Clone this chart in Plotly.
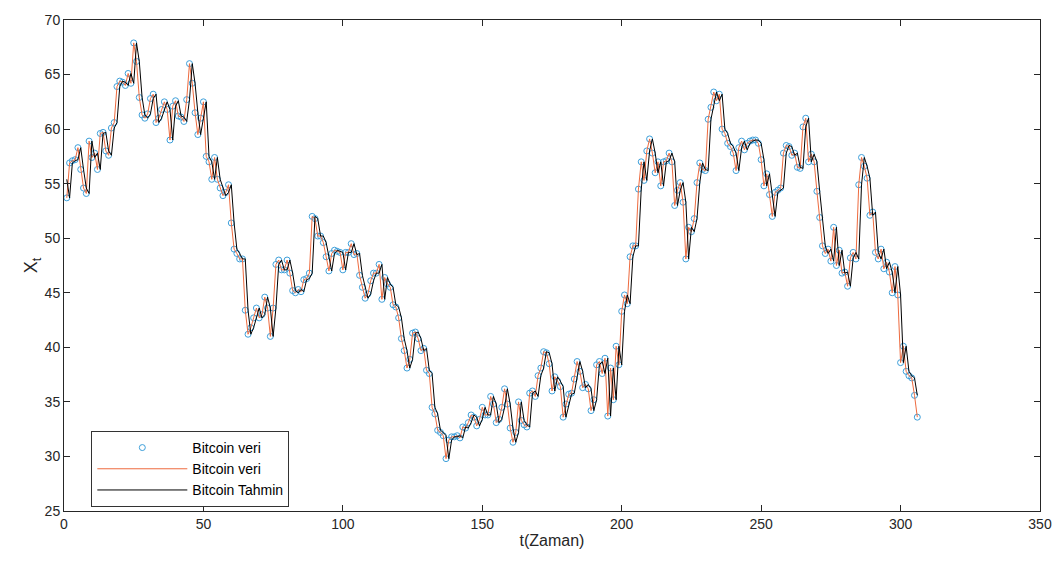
import plotly.graph_objects as go

t_index = list(range(1, 307))

bitcoin_data = [
    53.7, 56.9, 57.1, 57.2, 58.3, 56.3, 54.6, 54.1, 58.9, 57.4,
    57.8, 56.3, 59.6, 59.7, 58.0, 57.6, 60.1, 60.6, 63.9, 64.4,
    64.3, 64.0, 65.1, 64.2, 67.9, 66.2, 62.9, 61.3, 61.0, 61.4,
    62.8, 63.2, 60.6, 61.0, 61.8, 62.5, 61.8, 59.0, 62.1, 62.6,
    61.2, 61.1, 60.7, 62.7, 66.0, 64.2, 61.5, 59.5, 61.0, 62.5,
    57.5, 57.0, 55.4, 57.4, 55.4, 54.6, 53.9, 54.2, 54.9, 51.4,
    49.0, 48.6, 48.1, 48.1, 43.4, 41.2, 41.8, 42.7, 43.6, 42.7,
    43.0, 44.6, 43.6, 41.0, 43.6, 47.6, 48.0, 47.1, 47.1, 48.0,
    46.8, 45.2, 45.0, 45.3, 45.1, 46.2, 46.3, 46.8, 52.0, 51.8,
    50.2, 50.2, 49.6, 48.3, 47.0, 48.6, 48.9, 48.8, 48.7, 47.1,
    48.7, 48.7, 49.5, 48.5, 48.6, 46.6, 45.5, 44.5, 44.9, 46.1,
    46.8, 46.8, 47.6, 44.4, 46.4, 45.8, 45.5, 43.9, 43.7, 42.7,
    40.8, 39.7, 38.1, 38.9, 41.3, 41.4, 40.8, 39.7, 39.9, 37.9,
    37.6, 34.5, 33.9, 32.4, 32.2, 31.9, 29.8, 31.5, 31.8, 31.8,
    31.9, 31.7, 32.7, 32.6, 33.1, 33.8, 33.6, 32.8, 33.4, 34.5,
    33.8, 33.8, 35.5, 34.8, 33.1, 33.4, 34.5, 36.2, 34.8, 32.6,
    31.3, 32.2, 35.0, 33.3, 32.9, 32.7, 35.8, 36.0, 35.5, 37.4,
    38.1, 39.6, 39.5, 38.5, 36.0, 37.3, 36.9, 36.4, 33.6, 34.8,
    35.7, 35.8, 37.1, 38.7, 37.8, 36.3, 36.6, 36.2, 34.2, 35.2,
    38.4, 38.7, 37.6, 39.0, 33.7, 38.1, 35.2, 40.1, 38.4, 43.3,
    44.8, 44.0, 48.3, 49.3, 49.3, 54.5, 57.0, 55.3, 58.0, 59.1,
    57.8, 56.0, 57.0, 54.8, 57.0, 57.1, 57.8, 57.0, 53.0, 54.4,
    55.1, 53.3, 48.1, 51.0, 50.6, 51.8, 55.1, 56.9, 56.3, 56.2,
    60.9, 62.0, 63.4, 62.6, 63.2, 60.0, 59.6, 58.7, 58.4, 57.8,
    56.2, 58.3, 58.9, 58.1, 58.7, 58.9, 59.0, 59.0, 58.7, 57.2,
    54.8, 55.9, 54.0, 52.0, 54.2, 54.4, 54.6, 57.8, 58.5, 58.4,
    57.6, 57.8, 56.5, 56.4, 60.2, 61.0, 57.0, 57.7, 57.0, 54.3,
    51.9, 49.3, 48.6, 49.0, 47.9, 51.0, 47.5, 48.9, 46.8, 46.9,
    45.6, 48.2, 48.7, 48.1, 54.9, 57.4, 56.6, 55.5, 52.1, 52.4,
    48.7, 48.1, 49.0, 47.2, 47.8, 46.9, 45.0, 47.4, 44.8, 38.6,
    40.1, 37.8, 37.4, 37.2, 35.6, 33.6,
]

bitcoin_tahmin = [
    55.4, 53.7, 56.9, 57.1, 57.2, 58.3, 56.3, 54.6, 54.1, 58.9,
    57.4, 57.8, 56.3, 59.6, 59.7, 58.0, 57.6, 60.1, 60.6, 63.9,
    64.4, 64.3, 64.0, 65.1, 64.2, 67.9, 66.2, 62.9, 61.3, 61.0,
    61.4, 62.8, 63.2, 60.6, 61.0, 61.8, 62.5, 61.8, 59.0, 62.1,
    62.6, 61.2, 61.1, 60.7, 62.7, 66.0, 64.2, 61.5, 59.5, 61.0,
    62.5, 57.5, 57.0, 55.4, 57.4, 55.4, 54.6, 53.9, 54.2, 54.9,
    51.4, 49.0, 48.6, 48.1, 48.1, 43.4, 41.2, 41.8, 42.7, 43.6,
    42.7, 43.0, 44.6, 43.6, 41.0, 43.6, 47.6, 48.0, 47.1, 47.1,
    48.0, 46.8, 45.2, 45.0, 45.3, 45.1, 46.2, 46.3, 46.8, 52.0,
    51.8, 50.2, 50.2, 49.6, 48.3, 47.0, 48.6, 48.9, 48.8, 48.7,
    47.1, 48.7, 48.7, 49.5, 48.5, 48.6, 46.6, 45.5, 44.5, 44.9,
    46.1, 46.8, 46.8, 47.6, 44.4, 46.4, 45.8, 45.5, 43.9, 43.7,
    42.7, 40.8, 39.7, 38.1, 38.9, 41.3, 41.4, 40.8, 39.7, 39.9,
    37.9, 37.6, 34.5, 33.9, 32.4, 32.2, 31.9, 29.8, 31.5, 31.8,
    31.8, 31.9, 31.7, 32.7, 32.6, 33.1, 33.8, 33.6, 32.8, 33.4,
    34.5, 33.8, 33.8, 35.5, 34.8, 33.1, 33.4, 34.5, 36.2, 34.8,
    32.6, 31.3, 32.2, 35.0, 33.3, 32.9, 32.7, 35.8, 36.0, 35.5,
    37.4, 38.1, 39.6, 39.5, 38.5, 36.0, 37.3, 36.9, 36.4, 33.6,
    34.8, 35.7, 35.8, 37.1, 38.7, 37.8, 36.3, 36.6, 36.2, 34.2,
    35.2, 38.4, 38.7, 37.6, 39.0, 33.7, 38.1, 35.2, 40.1, 38.4,
    43.3, 44.8, 44.0, 48.3, 49.3, 49.3, 54.5, 57.0, 55.3, 58.0,
    59.1, 57.8, 56.0, 57.0, 54.8, 57.0, 57.1, 57.8, 57.0, 53.0,
    54.4, 55.1, 53.3, 48.1, 51.0, 50.6, 51.8, 55.1, 56.9, 56.3,
    56.2, 60.9, 62.0, 63.4, 62.6, 63.2, 60.0, 59.6, 58.7, 58.4,
    57.8, 56.2, 58.3, 58.9, 58.1, 58.7, 58.9, 59.0, 59.0, 58.7,
    57.2, 54.8, 55.9, 54.0, 52.0, 54.2, 54.4, 54.6, 57.8, 58.5,
    58.4, 57.6, 57.8, 56.5, 56.4, 60.2, 61.0, 57.0, 57.7, 57.0,
    54.3, 51.9, 49.3, 48.6, 49.0, 47.9, 51.0, 47.5, 48.9, 46.8,
    46.9, 45.6, 48.2, 48.7, 48.1, 54.9, 57.4, 56.6, 55.5, 52.1,
    52.4, 48.7, 48.1, 49.0, 47.2, 47.8, 46.9, 45.0, 47.4, 44.8,
    38.6, 40.1, 37.8, 37.4, 37.2, 35.6,
]

x_ticks = [0, 50, 100, 150, 200, 250, 300, 350]
y_ticks = [25, 30, 35, 40, 45, 50, 55, 60, 65, 70]

FONT = "Liberation Sans, Arial, sans-serif"
AX = "#262626"

fig = go.Figure()
fig.add_trace(go.Scatter(
    x=t_index, y=bitcoin_data, mode="markers", name="Bitcoin veri",
    marker=dict(symbol="circle-open", size=6, color="#3D9FDA", line=dict(width=1)),
))
fig.add_trace(go.Scatter(
    x=t_index, y=bitcoin_data, mode="lines", name="Bitcoin veri",
    line=dict(color="#EE6A3E", width=1),
))
fig.add_trace(go.Scatter(
    x=t_index, y=bitcoin_tahmin, mode="lines", name="Bitcoin Tahmin",
    line=dict(color="#000000", width=1),
))

fig.update_layout(
    width=1064, height=563,
    margin=dict(l=64, r=18, t=16, b=52),
    paper_bgcolor="white", plot_bgcolor="white",
    font=dict(family=FONT, size=14, color=AX),
    showlegend=True,
    legend=dict(
        x=0.028, y=0.163, xanchor="left", yanchor="top",
        bgcolor="white", bordercolor="#333333", borderwidth=1,
        font=dict(family=FONT, size=14, color="#000000"),
        tracegroupgap=0, itemwidth=90,
    ),
    xaxis=dict(
        range=[0, 350], tickvals=x_ticks, ticks="inside", ticklen=6,
        tickcolor=AX, showline=True, linecolor=AX, linewidth=1, mirror="ticks",
        showgrid=False, zeroline=False,
        title=dict(text="t(Zaman)", font=dict(size=16, family=FONT, color=AX), standoff=4),
        tickfont=dict(size=14, family=FONT, color=AX),
    ),
    yaxis=dict(
        range=[25, 70], tickvals=y_ticks, ticks="inside", ticklen=6,
        tickcolor=AX, showline=True, linecolor=AX, linewidth=1, mirror="ticks",
        showgrid=False, zeroline=False,
        title=dict(text="X<sub>t</sub>", font=dict(size=18, family=FONT, color=AX), standoff=2),
        tickfont=dict(size=14, family=FONT, color=AX),
    ),
)

fig.write_html("out.html")
